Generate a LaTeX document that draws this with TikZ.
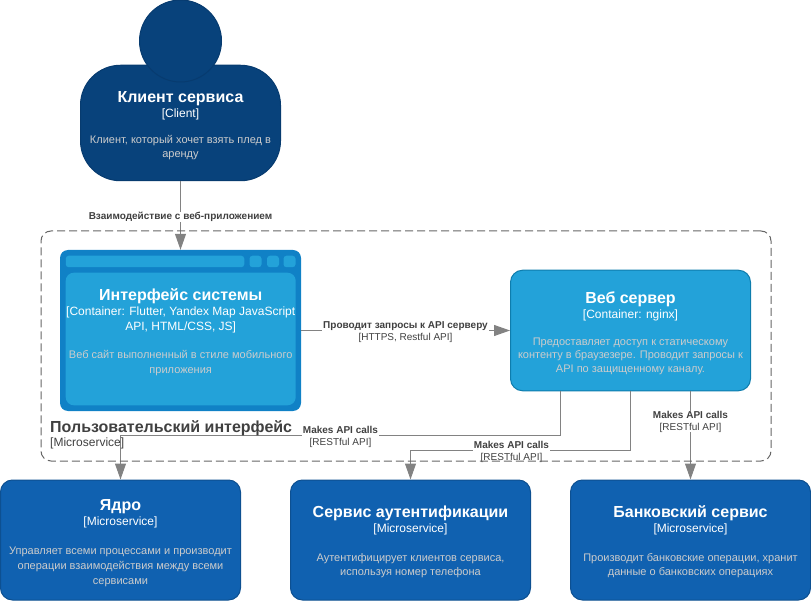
\documentclass[tikz,border=0pt]{standalone}
\usepackage{fontspec}
\setmainfont{Liberation Sans}
\usetikzlibrary{arrows.meta}

\definecolor{personblue}{HTML}{08427B}
\definecolor{personline}{HTML}{073B6F}
\definecolor{contblue}{HTML}{23A2D9}
\definecolor{contline}{HTML}{0E7DAD}
\definecolor{winblue}{HTML}{1081C6}
\definecolor{svcblue}{HTML}{1061B0}
\definecolor{svcline}{HTML}{0D5091}
\definecolor{relgray}{HTML}{828282}
\definecolor{reltext}{HTML}{404040}
\definecolor{desclight}{HTML}{CCCCCC}

\newcommand{\titletext}[2][17pt]{\rule{0pt}{#1}{\fontsize{16}{14}\bfseries\selectfont #2}}
\newcommand{\desctext}[1]{{\fontsize{11}{14}\selectfont\color{desclight}#1}}
\newcommand{\reltext}[2]{{\bfseries #1}\\{#2}}

\tikzset{
    anybox/.style={draw, text=white, align=center, inner sep=0pt, line width=1pt, font=\fontsize{12}{14}\selectfont},
    personbox/.style={anybox, fill=personblue, draw=personline, rounded corners=40pt, minimum width=200pt, minimum height=115.5pt},
    headbox/.style={circle, fill=personblue, draw=personline, line width=1pt, minimum size=82pt, inner sep=0pt},
    webbox/.style={anybox, fill=contblue, draw=contline, rounded corners=12pt, minimum width=240pt, minimum height=120.5pt},
    svcbox/.style={anybox, fill=svcblue, draw=svcline, rounded corners=12pt, minimum width=240pt, minimum height=120pt},
    winbox/.style={fill=winblue, rounded corners=8pt, minimum width=241pt, minimum height=161pt, inner sep=0pt},
    winpart/.style={fill=contblue, rounded corners=3pt, inner sep=0pt},
    wininner/.style={fill=contblue, rounded corners=8pt, inner sep=0pt, text=white, align=center, minimum width=230pt, minimum height=132.5pt, font=\fontsize{12}{14}\selectfont},
    rel/.style={draw=relgray, line width=1pt, -{Triangle[length=16pt, width=11pt]}},
    rellabel/.style={fill=white, text=reltext, align=center, inner xsep=1pt, inner ysep=0pt, font=\fontsize{10}{12}\selectfont},
    boundary/.style={draw=black!60, line width=1pt, dash pattern=on 8pt off 4pt, rounded corners=10pt, minimum width=730pt, minimum height=230pt},
}

\begin{document}
\begin{tikzpicture}[x=1pt, y=-1pt]
    \useasboundingbox (0, 0) rectangle (811, 601);

    % person
    \node[personbox] (client) at (180.5, 123) {\titletext[16pt]{Клиент сервиса}\\[1pt] [Client]\\[12pt] \desctext{Клиент, который хочет взять плед в}\\[-0.5pt] \desctext{аренду}};
    \node[headbox] (clienthead) at (180.5, 41) {};

    % browser window
    \node[winbox] (iface) at (180.5, 330.5) {};
    \node[winpart, minimum width=178.5pt, minimum height=11.5pt] (ifacebar) at (155, 261.5) {};
    \foreach \bx/\bname in {255.5/one, 273/two, 289.5/three} {
        \node[winpart, minimum width=12pt, minimum height=11.5pt] (ifacebtn\bname) at (\bx, 261.5) {};
    }
    \node[wininner] (ifacebody) at (180.7, 339) {\titletext[12pt]{Интерфейс системы}\\[1pt] [Container: Flutter, Yandex Map JavaScript\\[1pt] API, HTML/CSS, JS]\\[14pt] \desctext{Веб сайт выполненный в стиле мобильного}\\[1pt] \desctext{приложения}\rule[-16pt]{0pt}{16pt}};

    \node[webbox] (web) at (630.5, 330.5) {\titletext{Веб сервер}\\[1pt] [Container: nginx]\\[12.5pt] \desctext{Предоставляет доступ к статическому}\\[-0.5pt] \desctext{контенту в браузезере. Проводит запросы к}\\[-0.5pt] \desctext{API по защищенному каналу.}};

    \node[svcbox] (core) at (120.5, 540) {\titletext{Ядро}\\[1pt] [Microservice]\\[15pt] \desctext{Управляет всеми процессами и производит}\\[0.7pt] \desctext{операции взаимодействия между всеми}\\[0.7pt] \desctext{сервисами}};
    \node[svcbox] (auth) at (410.5, 540) {\titletext[15pt]{Сервис аутентификации}\\[1pt] [Microservice]\\[15pt] \desctext{Аутентифицирует клиентов сервиса,}\\[0.7pt] \desctext{используя номер телефона}};
    \node[svcbox] (bank) at (690.5, 540) {\titletext[15pt]{Банковский сервис}\\[1pt] [Microservice]\\[15pt] \desctext{Производит банковские операции, хранит}\\[0.7pt] \desctext{данные о банковских операциях}};

    % connectors
    \draw[rel] (client) -- (iface);
    \draw[rel] (iface) -- (web);
    \draw[rel] ([xshift=-70pt]web.south) -- ++(0, 44.5) -| (core.north);
    \draw[rel] (web.south) -- ++(0, 59.5) -| (auth.north);
    \draw[rel] ([xshift=60pt]web.south) -- (bank.north);

    \node[rellabel] (lblclient) at (180.5, 217) {\bfseries Взаимодействие с веб-приложением};
    \node[rellabel] (lbliface) at (405.5, 332) {\reltext{Проводит запросы к API серверу}{[HTTPS, Restful API]}};
    \node[rellabel] (lblcore) at (340.5, 436.5) {\reltext{Makes API calls}{[RESTful API]}};
    \node[rellabel] (lblauth) at (511.5, 452) {\reltext{Makes API calls}{[RESTful API]}};
    \node[rellabel] (lblbank) at (690.5, 421.5) {\reltext{Makes API calls}{[RESTful API]}};

    % boundary on top of the labels
    \node[boundary] (uibound) at (406, 346) {};
    \node[anchor=south west, inner sep=0pt, text=reltext, font=\fontsize{16}{16}\bfseries\selectfont] (uititle) at (50, 436.5) {Пользовательский интерфейс};
    \node[anchor=south west, inner sep=0pt, text=reltext, font=\fontsize{12}{14}\selectfont] (uitype) at (50, 449) {[Microservice]};
\end{tikzpicture}
\end{document}
